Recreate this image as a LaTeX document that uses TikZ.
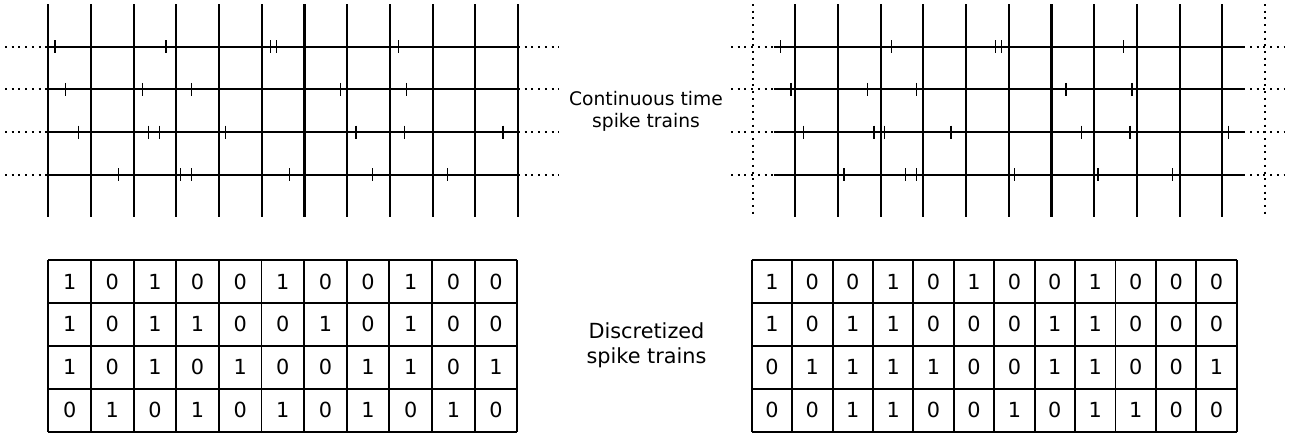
\documentclass[tikz,border=0pt]{standalone}
\usepackage{fontspec}
\setmainfont{DejaVu Sans}
\begin{document}
\begin{tikzpicture}[x=1pt,y=-1pt,
  gridline/.style={line width=2.1pt},
  gridext/.style={line width=2pt, dash pattern=on 2pt off 4.7pt},
  spike/.style={line width=1.1pt},
  cellline/.style={line width=1.9pt},
  digit/.style={font=\fontsize{20.8}{25}\selectfont, inner sep=0pt},
  captionA/.style={font=\fontsize{18.7}{21.6}\selectfont, align=center, inner sep=0pt},
  captionB/.style={font=\fontsize{20.8}{25}\selectfont, align=center, inner sep=0pt}]
\useasboundingbox (0,0) rectangle (1293,432);

% ---- spike trains in continuous time: left panel (bin edges on the grid) ----
\foreach \i in {0,...,11}
  \draw[gridline] ({48.3+42.7*\i},4) -- ({48.3+42.7*\i},217.4);
\foreach \yy in {46.7,89.3,132,174.7} {
  \draw[gridext] (5,\yy) -- (48.3,\yy);
  \draw[gridline] (48.3,\yy) -- (518,\yy);
  \draw[gridext] (518,\yy) -- (559,\yy);
}

% ---- right panel: same trains, bin edges shifted by half a bin ----
\foreach \i in {0,...,10}
  \draw[gridline] ({795.3+42.7*\i},4) -- ({795.3+42.7*\i},217.4);
\foreach \xx in {752.6,1265}
  \draw[gridext] (\xx,4) -- (\xx,217.4);
\foreach \yy in {46.7,89.3,132,174.7} {
  \draw[gridext] (731,\yy) -- (773.6,\yy);
  \draw[gridline] (773.6,\yy) -- (1243.3,\yy);
  \draw[gridext] (1243.3,\yy) -- (1285,\yy);
}

% ---- spike times, drawn in both panels ----
\foreach \dx in {0,725.3} {
  \foreach \yy/\times in {
      46.7/{55,166,270.3,276.3,398.3},
      89.3/{65.7,142.3,191.3,340.7,406.7},
      132/{78.3,148.7,159.3,225.7,356,404.7,503},
      174.7/{118.7,180.3,191.3,289.3,372.7,447.3}} {
    \foreach \t in \times
      \draw[spike] ({\t+\dx},{\yy-6.5}) -- ({\t+\dx},{\yy+6.5});
  }
}

% ---- discretized trains: left table (11 bins) ----
\foreach \i in {0,...,11}
  \draw[cellline] ({48.3+42.64*\i},260) -- ({48.3+42.64*\i},431.6);
\foreach \j in {0,...,4}
  \draw[cellline] (48.3,{260+42.9*\j}) -- (517.3,{260+42.9*\j});
\foreach \row [count=\r from 0] in {
    {1,0,1,0,0,1,0,0,1,0,0},
    {1,0,1,1,0,0,1,0,1,0,0},
    {1,0,1,0,1,0,0,1,1,0,1},
    {0,1,0,1,0,1,0,1,0,1,0}} {
  \foreach \v [count=\c from 0] in \row
    \node[digit] (L-\r-\c) at ({48.3+42.64*(\c+0.5)},{260+42.9*(\r+0.5)}) {\v};
}

% ---- discretized trains: right table (12 bins) ----
\foreach \i in {0,...,12}
  \draw[cellline] ({751.7+40.42*\i},260) -- ({751.7+40.42*\i},431.6);
\foreach \j in {0,...,4}
  \draw[cellline] (751.7,{260+42.9*\j}) -- (1236.7,{260+42.9*\j});
\foreach \row [count=\r from 0] in {
    {1,0,0,1,0,1,0,0,1,0,0,0},
    {1,0,1,1,0,0,0,1,1,0,0,0},
    {0,1,1,1,1,0,0,1,1,0,0,1},
    {0,0,1,1,0,0,1,0,1,1,0,0}} {
  \foreach \v [count=\c from 0] in \row
    \node[digit] (R-\r-\c) at ({751.7+40.42*(\c+0.5)},{260+42.9*(\r+0.5)}) {\v};
}

% ---- captions ----
\node[captionA] (cont) at (646,111.4) {Continuous time\\spike trains};
\node[captionB] (disc) at (646.5,345) {Discretized\\spike trains};
\end{tikzpicture}
\end{document}
